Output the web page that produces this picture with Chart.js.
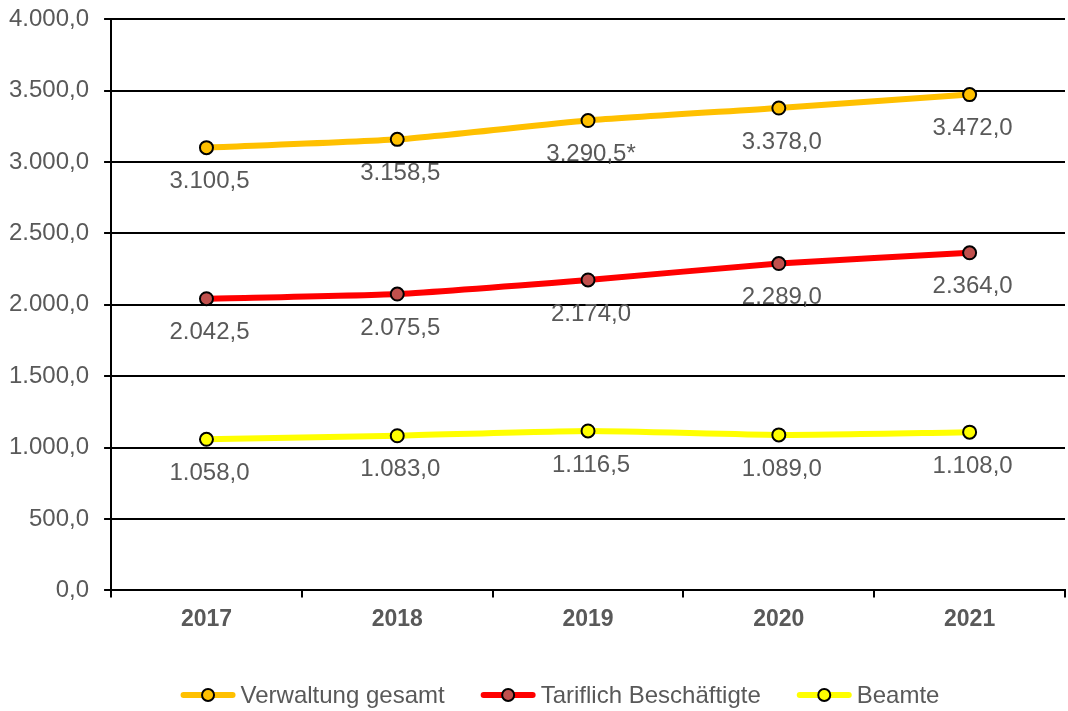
<!DOCTYPE html>
<html>
<head>
<meta charset="utf-8">
<script src="https://cdn.jsdelivr.net/npm/chart.js@4.4.1/dist/chart.umd.min.js"></script>
<style>
  html, body { margin: 0; padding: 0; background: #fff; }
  #wrap { width: 1068px; height: 711px; position: relative; }
</style>
</head>
<body>
<div id="wrap"><canvas id="chart"></canvas></div>
<script>
// data
const years = ['2017', '2018', '2019', '2020', '2021'];
const verwaltung = [3100.5, 3158.5, 3290.5, 3378.0, 3472.0];
const verwaltungNotes = ['', '', '*', '', ''];
const tariflich = [2042.5, 2075.5, 2174.0, 2289.0, 2364.0];
const beamte = [1058.0, 1083.0, 1116.5, 1089.0, 1108.0];
const yMin = 0, yMax = 4000, yStep = 500;

const FONT = '"Liberation Sans", Arial, sans-serif';
const GREY = '#595959';

// German number format: 3.100,5
function fmt(v) {
    const parts = v.toFixed(1).split('.');
    const intPart = parts[0].replace(/\B(?=(\d{3})+(?!\d))/g, '.');
    return intPart + ',' + parts[1];
}

// value labels under each point
const pointLabels = {
    id: 'pointLabels',
    afterDatasetsDraw(chart) {
        const ctx = chart.ctx;
        ctx.save();
        ctx.font = '24px ' + FONT;
        ctx.fillStyle = GREY;
        ctx.textAlign = 'center';
        ctx.textBaseline = 'middle';
        chart.data.datasets.forEach((ds, i) => {
            chart.getDatasetMeta(i).data.forEach((pt, j) => {
                const txt = fmt(ds.data[j]) + (ds.notes ? ds.notes[j] : '');
                ctx.fillText(txt, pt.x + 3, pt.y + 34);
            });
        });
        ctx.restore();
    }
};

// legend with line + marker, like the office chart
const lineLegend = {
    id: 'lineLegend',
    afterDraw(chart) {
        const ctx = chart.ctx;
        ctx.save();
        ctx.font = '24px ' + FONT;
        const sym = 55, gap = 5, space = 36;
        const items = chart.data.datasets.map(ds => ({
            text: ds.label,
            line: ds.borderColor,
            fill: ds.pointBackgroundColor,
            w: sym + gap + ctx.measureText(ds.label).width
        }));
        const total = items.reduce((s, it) => s + it.w, 0) + space * (items.length - 1);
        let x = chart.width / 2 - total / 2 + 26;
        const y = 695;
        items.forEach(it => {
            ctx.strokeStyle = it.line;
            ctx.lineWidth = 6;
            ctx.lineCap = 'round';
            ctx.beginPath();
            ctx.moveTo(x + 3, y);
            ctx.lineTo(x + sym - 3, y);
            ctx.stroke();
            ctx.beginPath();
            ctx.arc(x + sym / 2, y, 6, 0, Math.PI * 2);
            ctx.fillStyle = it.fill;
            ctx.fill();
            ctx.lineWidth = 2;
            ctx.strokeStyle = '#000';
            ctx.stroke();
            ctx.fillStyle = GREY;
            ctx.textAlign = 'left';
            ctx.textBaseline = 'middle';
            ctx.fillText(it.text, x + sym + gap, y + 1);
            x += it.w + space;
        });
        ctx.restore();
    }
};

function series(label, data, line, fill) {
    return {
        label: label,
        data: data,
        borderColor: line,
        borderWidth: 6,
        pointBackgroundColor: fill,
        pointBorderColor: '#000',
        pointBorderWidth: 2,
        pointRadius: 6.5,
        pointHoverRadius: 6.5,
        tension: 0.2,
        fill: false
    };
}

const vw = series('Verwaltung gesamt', verwaltung, '#FFC000', '#FFC000');
vw.notes = verwaltungNotes;

new Chart(document.getElementById('chart'), {
    type: 'line',
    data: {
        labels: years,
        datasets: [
            vw,
            series('Tariflich Beschäftigte', tariflich, '#FF0000', '#C0504D'),
            series('Beamte', beamte, '#FFFF00', '#FFFF00')
        ]
    },
    options: {
        responsive: true,
        maintainAspectRatio: false,
        animation: false,
        layout: {
            autoPadding: false,
            padding: { top: 0, right: 3, bottom: 70, left: -6 }
        },
        plugins: {
            legend: { display: false },
            tooltip: { enabled: false }
        },
        scales: {
            x: {
                offset: true,
                grid: {
                    offset: true,
                    drawOnChartArea: false,
                    drawTicks: true,
                    tickLength: 7,
                    color: '#000',
                    lineWidth: 2
                },
                border: { color: '#000', width: 2 },
                ticks: {
                    color: GREY,
                    padding: 8,
                    font: { family: FONT, size: 23, weight: 'bold' }
                }
            },
            y: {
                min: yMin,
                max: yMax,
                grid: {
                    color: '#000',
                    lineWidth: 2,
                    tickLength: 7
                },
                border: { color: '#000', width: 2 },
                ticks: {
                    stepSize: yStep,
                    color: GREY,
                    padding: 15,
                    font: { family: FONT, size: 24, lineHeight: 0.35 },
                    callback: v => fmt(v)
                }
            }
        }
    },
    plugins: [pointLabels, lineLegend]
});
</script>
</body>
</html>
